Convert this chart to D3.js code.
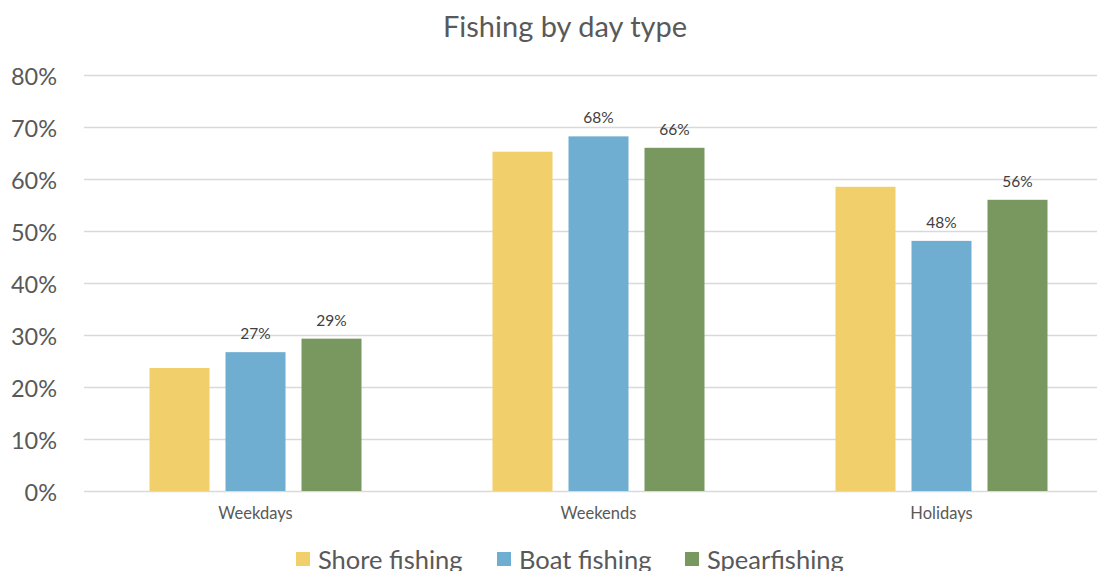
<!DOCTYPE html>
<html><head><meta charset="utf-8">
<script src="https://cdn.jsdelivr.net/npm/d3@7"></script>
<style>body{margin:0;background:#fff}svg{display:block}text{font-family:Lato,"Open Sans",sans-serif}</style>
</head><body><div id="chart"></div>
<script>
const categories = ["Weekdays", "Weekends", "Holidays"];
const seriesNames = ["Shore fishing", "Boat fishing", "Spearfishing"];
const shoreFishing = [0.2365, 0.6525, 0.585];
const boatFishing = [0.267, 0.682, 0.481];
const spearfishing = [0.293, 0.660, 0.560];
const showLabels = [false, true, true];
const yTicks = [0, 0.1, 0.2, 0.3, 0.4, 0.5, 0.6, 0.7, 0.8];
const colors = ["#F1D06C", "#70AED1", "#789860"];
const seriesValues = [shoreFishing, boatFishing, spearfishing];

const W = 1097, H = 571;
const svg = d3.select("#chart").append("svg").attr("width", W).attr("height", H);

const x0 = d3.scaleBand().domain(categories).range([84, 1113]).padding(0);
const groupW = 212;
const x1 = d3.scaleBand().domain(seriesNames).range([0, groupW]).paddingInner(16/76).paddingOuter(0);
const y = d3.scaleLinear().domain([0, 0.8]).range([491, 75]);

// gridlines
svg.append("g").selectAll("line").data(yTicks).join("line")
  .attr("x1", 84).attr("x2", 1113)
  .attr("y1", d => Math.round(y(d)) + 0.5).attr("y2", d => Math.round(y(d)) + 0.5)
  .attr("stroke", "#D9D9D9").attr("stroke-width", 1.3);

// y axis labels
const yAxis = d3.axisLeft(y).tickValues(yTicks).tickFormat(d3.format(".0%")).tickSize(0).tickPadding(0);
const ya = svg.append("g").attr("transform", "translate(57,0)").call(yAxis);
ya.select(".domain").remove();
ya.selectAll("text").attr("font-family", "Lato").attr("font-size", 23.5).attr("fill", "#595959")
  .attr("dy", null).attr("y", 9).attr("dominant-baseline", null);

// bars
const groups = svg.append("g").selectAll("g").data(categories).join("g")
  .attr("transform", c => `translate(${x0(c) + (x0.bandwidth() - groupW) / 2},0)`);

groups.selectAll("rect").data((c, i) => seriesNames.map((s, j) => ({s, j, v: seriesValues[j][i]})))
  .join("rect")
  .attr("x", d => x1(d.s)).attr("width", x1.bandwidth())
  .attr("y", d => y(d.v)).attr("height", d => y(0) - y(d.v))
  .attr("fill", d => colors[d.j]);

groups.selectAll("text").data((c, i) => seriesNames.map((s, j) => ({s, j, v: seriesValues[j][i]})).filter(d => showLabels[d.j]))
  .join("text")
  .attr("x", d => x1(d.s) + x1.bandwidth() / 2)
  .attr("y", d => y(d.v) - 13)
  .attr("text-anchor", "middle")
  .attr("font-size", 15.5).attr("fill", "#404040")
  .text(d => d3.format(".0%")(d.v));

// x axis labels
const xAxis = d3.axisBottom(x0).tickSize(0).tickPadding(0);
const xa = svg.append("g").attr("transform", "translate(0,519)").call(xAxis);
xa.select(".domain").remove();
xa.selectAll("text").attr("font-family", "Lato").attr("font-size", 16.5).attr("fill", "#595959").attr("dy", null).attr("y", 0);

// title
svg.append("text").attr("x", 565).attr("y", 37).attr("text-anchor", "middle")
  .attr("font-size", 29).attr("fill", "#595959").text("Fishing by day type");

// legend
const legendX = [296, 497, 685];
const lg = svg.append("g").selectAll("g").data(seriesNames).join("g")
  .attr("transform", (d, i) => `translate(${legendX[i]},0)`);
lg.append("rect").attr("x", 0).attr("y", 552).attr("width", 14).attr("height", 14).attr("fill", (d, i) => colors[i]);
lg.append("text").attr("x", 22).attr("y", 569).attr("font-size", 25.5).attr("fill", "#595959").text(d => d);
</script></body></html>
